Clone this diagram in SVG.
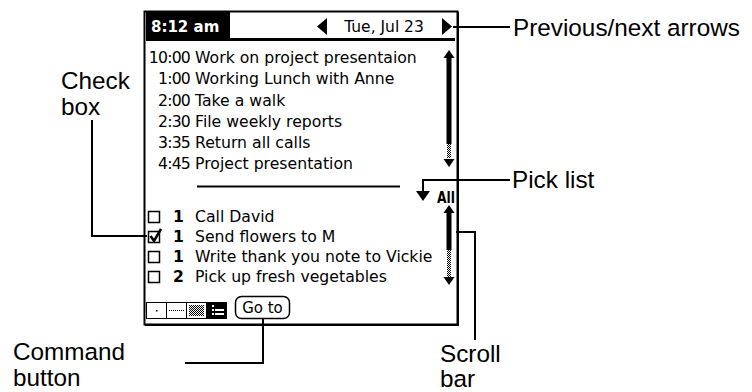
<svg xmlns="http://www.w3.org/2000/svg" width="752" height="392" viewBox="0 0 752 392">
<defs>
<style>
.scr{font-family:"DejaVu Sans",sans-serif;font-size:15.7px;fill:#000}
.t{letter-spacing:-0.8px}
.b{font-weight:bold}
.lbl{font-family:"Liberation Sans",Arial,sans-serif;font-size:24.3px;fill:#000}
.ln{fill:none;stroke:#000;stroke-width:2}
.box{fill:#fff;stroke:#000;stroke-width:1.5}
</style>
<pattern id="chk" width="2" height="2" patternUnits="userSpaceOnUse">
<rect width="1" height="1" fill="#000"/><rect x="1" y="1" width="1" height="1" fill="#000"/>
</pattern>
</defs>
<rect width="752" height="392" fill="#fff"/>

<g id="screen">
<rect x="144.5" y="11.5" width="313" height="313" fill="#fff" stroke="#000" stroke-width="2"/>
<line x1="458.5" y1="12" x2="458.5" y2="326" stroke="#000" stroke-width="1"/>
<line x1="145" y1="325.5" x2="459" y2="325.5" stroke="#000" stroke-width="1"/>
</g>

<g id="header">
<rect x="146" y="12" width="84" height="26" fill="#000"/>
<text x="151" y="32" class="scr b" style="fill:#fff;font-size:15px">8:12 am</text>
<rect x="146" y="38" width="309" height="3" fill="#000"/>
<polygon points="317,26.5 327,18 327,35" fill="#000"/>
<text x="384" y="32" class="scr" text-anchor="middle" style="font-size:15.5px">Tue, Jul 23</text>
<polygon points="442,18 442,35 452,26.5" fill="#000"/>
</g>

<g id="appointments" class="scr">
<text x="190" y="63" text-anchor="end" class="t">10:00</text><text x="195" y="63">Work on project presentaion</text>
<text x="190" y="84" text-anchor="end" class="t">1:00</text><text x="195" y="84">Working Lunch with Anne</text>
<text x="190" y="105.5" text-anchor="end" class="t">2:00</text><text x="195" y="105.5">Take a walk</text>
<text x="190" y="126.5" text-anchor="end" class="t">2:30</text><text x="195" y="126.5">File weekly reports</text>
<text x="190" y="148" text-anchor="end" class="t">3:35</text><text x="195" y="148">Return all calls</text>
<text x="190" y="169" text-anchor="end" class="t">4:45</text><text x="195" y="169">Project presentation</text>
</g>

<g id="scrollbar-top">
<polygon points="443.5,58 454.5,58 449,50" fill="#000"/>
<rect x="446.5" y="58" width="5" height="86" fill="#000"/>
<rect x="447" y="144" width="4" height="14" fill="url(#chk)"/>
<polygon points="443.5,159 454.5,159 449,167" fill="#000"/>
</g>

<line x1="197" y1="186.5" x2="400" y2="186.5" stroke="#000" stroke-width="2"/>

<g id="picklist">
<polygon points="416,191 430,191 423,201" fill="#000"/>
<text x="437" y="202.5" class="scr b" style="font-size:15px" textLength="18" lengthAdjust="spacingAndGlyphs">All</text>
</g>

<g id="todos" class="scr">
<rect x="148.5" y="211.5" width="11" height="11" class="box"/>
<text x="173" y="222" class="b">1</text><text x="195" y="222">Call David</text>
<rect x="148.5" y="231.5" width="11" height="11" class="box"/>
<path d="M150.5,236 L154,241 L161,229" fill="none" stroke="#000" stroke-width="2.5"/>
<text x="173" y="242" class="b">1</text><text x="195" y="242">Send flowers to M</text>
<rect x="148.5" y="251.5" width="11" height="11" class="box"/>
<text x="173" y="262" class="b">1</text><text x="195" y="262">Write thank you note to Vickie</text>
<rect x="148.5" y="271.5" width="11" height="11" class="box"/>
<text x="173" y="282" class="b">2</text><text x="195" y="282">Pick up fresh vegetables</text>
</g>

<g id="scrollbar-bottom">
<polygon points="443.5,213 454.5,213 449,205" fill="#000"/>
<rect x="446.5" y="213" width="5" height="37" fill="#000"/>
<rect x="447" y="250" width="4" height="27" fill="url(#chk)"/>
<polygon points="443.5,277 454.5,277 449,285" fill="#000"/>
</g>

<g id="view-buttons">
<rect x="146.5" y="302.5" width="80" height="16" fill="#fff" stroke="#000" stroke-width="1"/>
<line x1="166.5" y1="302.5" x2="166.5" y2="318.5" stroke="#000" stroke-width="1"/>
<line x1="186.5" y1="302.5" x2="186.5" y2="318.5" stroke="#000" stroke-width="1"/>
<rect x="156" y="310" width="1.5" height="1.5" fill="#000"/>
<line x1="169" y1="310.5" x2="184" y2="310.5" stroke="#000" stroke-width="1" stroke-dasharray="1 1"/>
<rect x="189" y="305" width="15" height="11" fill="url(#chk)"/>
<rect x="206" y="302" width="21" height="17" fill="#000"/>
<rect x="212" y="305" width="2" height="2" fill="#fff"/>
<rect x="212" y="309" width="2" height="2" fill="#fff"/>
<rect x="215" y="309" width="9" height="2" fill="#fff"/>
<rect x="212" y="313" width="2" height="2" fill="#fff"/>
<rect x="215" y="313" width="9" height="2" fill="#fff"/>
</g>

<g id="goto-button">
<rect x="235.5" y="296.5" width="54" height="22" rx="6" fill="#fff" stroke="#000" stroke-width="1.5"/>
<text x="262.5" y="313" class="scr" text-anchor="middle" style="font-size:15px">Go to</text>
</g>

<g id="connectors" class="ln">
<polyline points="453,27 510,27"/>
<polyline points="510,180 423,180 423,193"/>
<polyline points="456,232 475,232 475,340"/>
<polyline points="92,120 92,236 147,236"/>
<polyline points="263,319 263,363 185,363"/>
</g>

<g id="labels" class="lbl">
<text x="513" y="36">Previous/next arrows</text>
<text x="512" y="188">Pick list</text>
<text x="61" y="89">Check</text>
<text x="61" y="115">box</text>
<text x="13" y="360">Command</text>
<text x="13" y="386">button</text>
<text x="440" y="362">Scroll</text>
<text x="440" y="387">bar</text>
</g>
</svg>
